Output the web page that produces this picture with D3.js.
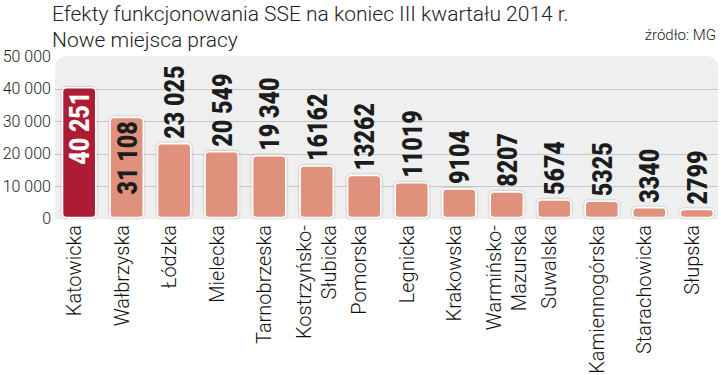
<!DOCTYPE html>
<html>
<head>
<meta charset="utf-8">
<script src="https://cdn.jsdelivr.net/npm/d3@7"></script>
<style>
	body { margin: 0; background: #fff; }
	svg { display: block; }
</style>
</head>
<body>
<div id="vis"></div>
<script>
// data
const zones = ["Katowicka", "Wałbrzyska", "Łódzka", "Mielecka", "Tarnobrzeska", "Kostrzyńsko-|Słubicka", "Pomorska", "Legnicka", "Krakowska", "Warmińsko-|Mazurska", "Suwalska", "Kamiennogórska", "Starachowicka", "Słupska"];
const jobs = [40251, 31108, 23025, 20549, 19340, 16162, 13262, 11019, 9104, 8207, 5674, 5325, 3340, 2799];
const jobLabels = ["40 251", "31 108", "23 025", "20 549", "19 340", "16162", "13262", "11019", "9104", "8207", "5674", "5325", "3340", "2799"];
const yTicks = [0, 10000, 20000, 30000, 40000, 50000];
const yTickLabels = ["0", "10 000", "20 000", "30 000", "40 000", "50 000"];

const W = 721, H = 375;
const LIGHT = "Roboto, 'Open Sans', sans-serif";
const BOLD = "Roboto, 'DejaVu Sans', sans-serif";

const svg = d3.select("#vis").append("svg")
	.attr("width", W)
	.attr("height", H);

const defs = svg.append("defs");
const shadow = defs.append("filter").attr("id", "shadow")
	.attr("x", "-20%").attr("y", "-20%").attr("width", "140%").attr("height", "140%");
shadow.append("feDropShadow")
	.attr("dx", 0).attr("dy", 0)
	.attr("stdDeviation", 1.2)
	.attr("flood-color", "#000")
	.attr("flood-opacity", 0.35);

const x = d3.scaleBand()
	.domain(zones)
	.range([53, 723])
	.paddingInner(0.3)
	.paddingOuter(0.2);

const y = d3.scaleLinear()
	.domain([0, 50000])
	.range([218.5, 56]);

// panel
svg.append("rect")
	.attr("x", 55).attr("y", 56)
	.attr("width", 663).attr("height", 175)
	.attr("rx", 12)
	.attr("fill", "#efefef");
svg.append("rect")
	.attr("x", 40).attr("y", 219)
	.attr("width", 690).attr("height", 20)
	.attr("fill", "#fff");

// title
svg.append("text")
	.attr("x", 52).attr("y", 20.5)
	.attr("font-family", LIGHT).attr("font-weight", 300)
	.attr("font-size", 21).attr("fill", "#222")
	.text("Efekty funkcjonowania SSE na koniec III kwartału 2014 r.");
svg.append("text")
	.attr("x", 52).attr("y", 46.5)
	.attr("font-family", LIGHT).attr("font-weight", 300)
	.attr("font-size", 21).attr("fill", "#222")
	.text("Nowe miejsca pracy");
svg.append("text")
	.attr("x", 716).attr("y", 40)
	.attr("text-anchor", "end")
	.attr("font-family", LIGHT).attr("font-weight", 300)
	.attr("font-size", 15).attr("fill", "#222")
	.text("źródło: MG");

// grid
svg.append("g")
	.selectAll("line")
	.data(yTicks.slice(1, -1))
	.join("line")
	.attr("x1", 55).attr("x2", 718)
	.attr("y1", d => Math.round(y(d)) + 0.5)
	.attr("y2", d => Math.round(y(d)) + 0.5)
	.attr("stroke", "#c6c6c6")
	.attr("stroke-width", 1);

// y axis labels
const yAxis = svg.append("g")
	.attr("transform", "translate(51,0)")
	.call(d3.axisLeft(y).tickValues(yTicks).tickSize(0).tickPadding(0)
		.tickFormat((d, i) => yTickLabels[i]));
yAxis.select(".domain").remove();
yAxis.selectAll("text")
	.attr("font-family", LIGHT).attr("font-weight", 300)
	.attr("font-size", 16).attr("fill", "#222");

// bars
svg.append("g")
	.selectAll("rect")
	.data(zones)
	.join("rect")
	.attr("x", d => x(d))
	.attr("y", (d, i) => y(jobs[i]))
	.attr("width", x.bandwidth())
	.attr("height", (d, i) => y(0) - y(jobs[i]) - 1)
	.attr("rx", 4)
	.attr("fill", (d, i) => i === 0 ? "#ad1b35" : "#e0917b")
	.attr("stroke", "#fff")
	.attr("stroke-width", 1.6)
	.attr("filter", "url(#shadow)");

// value labels (condensed by squeezing the glyphs)
svg.append("g")
	.selectAll("text")
	.data(zones)
	.join("text")
	.attr("font-family", BOLD).attr("font-weight", 900)
	.attr("font-size", 28)
	.attr("dy", "0.36em")
	.text((d, i) => jobLabels[i])
	.each(function(d, i) {
		const t = d3.select(this);
		const len = this.getComputedTextLength() * 0.83;
		t.attr("textLength", len).attr("lengthAdjust", "spacingAndGlyphs");
		const cx = x(d) + x.bandwidth() / 2;
		const top = y(jobs[i]);
		const inside = (y(0) - top) > len + 15;
		if (inside) {
			t.attr("transform", `translate(${cx},${top + 4}) rotate(-90)`)
				.attr("text-anchor", "end")
				.attr("fill", i === 0 ? "#fff" : "#1c1c1c");
		} else {
			t.attr("transform", `translate(${cx},${top - 5}) rotate(-90)`)
				.attr("text-anchor", "start")
				.attr("fill", "#1c1c1c");
		}
	});

// category labels
const cats = svg.append("g")
	.selectAll("text")
	.data(zones)
	.join("text")
	.attr("transform", d => `translate(${x(d) + x.bandwidth() / 2},225) rotate(-90)`)
	.attr("text-anchor", "end")
	.attr("font-family", LIGHT).attr("font-weight", 300)
	.attr("font-size", 20).attr("fill", "#111");

cats.each(function(d) {
	const lines = d.split("|");
	const t = d3.select(this);
	if (lines.length === 1) {
		t.append("tspan").attr("x", 0).attr("y", 2).text(lines[0]);
	} else {
		t.append("tspan").attr("x", 0).attr("y", -6).text(lines[0]);
		t.append("tspan").attr("x", 0).attr("y", 19).text(lines[1]);
	}
});
</script>
</body>
</html>
